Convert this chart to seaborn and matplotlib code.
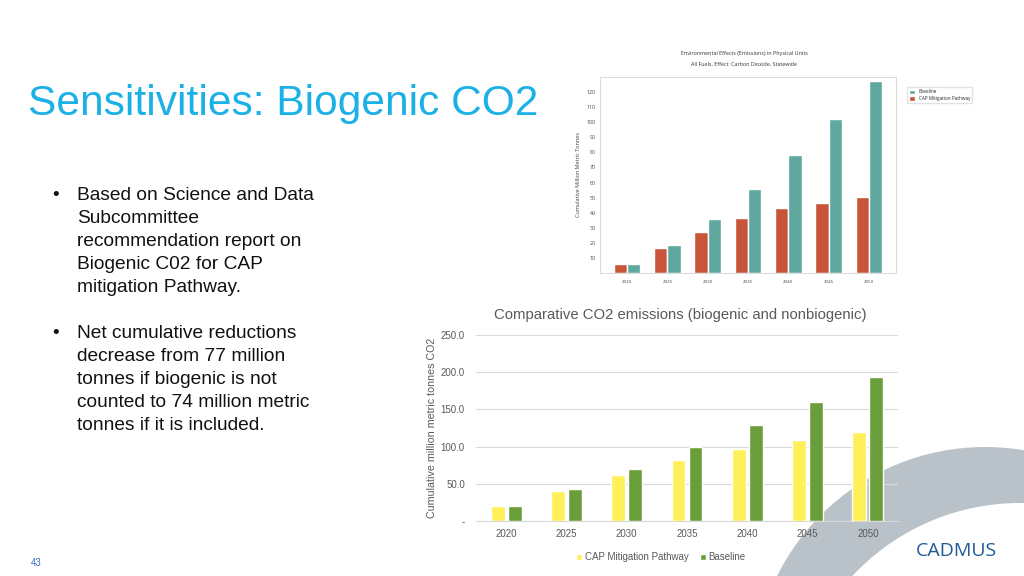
import numpy as np
import pandas as pd
import matplotlib
matplotlib.use("Agg")
import matplotlib.pyplot as plt
from matplotlib.patches import Circle
import seaborn as sns

# data: top inset chart (physical units model output)
years = ["2020", "2025", "2030", "2035", "2040", "2045", "2050"]
top_baseline = [6.3, 18.6, 35.9, 55.7, 78.2, 102.1, 127.3]
top_cap = [6.3, 16.6, 27.2, 36.5, 42.9, 46.7, 50.2]
top_yticks = [10, 20, 30, 40, 50, 60, 70, 80, 90, 100, 110, 120]

# data: bottom chart (biogenic + nonbiogenic)
cap_pathway = [19.7, 40.8, 62.3, 81.5, 97.2, 108.4, 119.6]
baseline = [19.7, 43.5, 70.3, 99.0, 128.6, 159.9, 193.5]
bottom_yticks = [0, 50, 100, 150, 200, 250]
bottom_ytick_labels = ["-", "50.0", "100.0", "150.0", "200.0", "250.0"]

bullets = [
    ["Based on Science and Data", "Subcommittee", "recommendation report on",
     "Biogenic C02 for CAP", "mitigation Pathway."],
    ["Net cumulative reductions", "decrease from 77 million",
     "tonnes if biogenic is not", "counted to 74 million metric",
     "tonnes if it is included."],
]

sns.set_theme(style="white")
plt.rcParams["font.family"] = ["Liberation Sans", "DejaVu Sans"]

W, H = 1024, 576
fig = plt.figure(figsize=(W / 100, H / 100), dpi=100)
fig.patch.set_facecolor("white")


def px_axes(left, top, right, bottom, **kw):
    return fig.add_axes([left / W, 1 - bottom / H, (right - left) / W, (bottom - top) / H], **kw)


# slide background layer (pixel coordinates)
bg = fig.add_axes([0, 0, 1, 1], zorder=0)
bg.set_xlim(0, W)
bg.set_ylim(H, 0)
bg.axis("off")
# crescent decoration, bottom right
bg.add_patch(Circle((985, 679), 232, facecolor="#b9c2c8", edgecolor="none"))
bg.add_patch(Circle((1020, 732), 229, facecolor="white", edgecolor="none"))

bg.text(28, 115, "Sensitivities: Biogenic CO2", color="#1cb1e6", fontsize=30.6,
        va="baseline", ha="left")
y = 200
for block in bullets:
    bg.text(52, y, "\u2022", fontsize=13.8, color="#111111", va="baseline")
    for line in block:
        bg.text(77, y, line, fontsize=13.8, color="#111111", va="baseline")
        y += 23
    y += 23
bg.text(36, 563, "43", fontsize=7, color="#3a6fc0", va="center", ha="center")
bg.text(956, 551, "CADMUS", fontsize=14, color="#1f5a96", va="center", ha="center",
        family=["Open Sans", "DejaVu Sans"])

# top inset chart
tfont = ["Open Sans", "DejaVu Sans"]
bg.text(744, 54, "Environmental Effects (Emissions) in Physical Units", fontsize=3.9,
        color="#333333", ha="center", va="center", family=tfont)
bg.text(744, 64, "All Fuels, Effect: Carbon Dioxide, Statewide", fontsize=3.9,
        color="#333333", ha="center", va="center", family=tfont)

top_df = pd.DataFrame({
    "year": years * 2,
    "value": top_cap + top_baseline,
    "series": ["CAP Mitigation Pathway"] * 7 + ["Baseline"] * 7,
})
ax1 = px_axes(600, 77, 896, 273, zorder=2)
sns.barplot(data=top_df, x="year", y="value", hue="series",
            hue_order=["CAP Mitigation Pathway", "Baseline"],
            palette=["#c8553a", "#5fa8a0"], width=0.66, saturation=1,
            ax=ax1, legend=True)
ax1.set_xlim(-0.67, 6.67)
ax1.set_ylim(0, 130)
ax1.set_yticks(top_yticks)
ax1.tick_params(axis="y", labelsize=3.8, colors="#444444", length=0, pad=3)
ax1.tick_params(axis="x", labelsize=3.2, colors="#444444", length=0, pad=5)
for lab in ax1.get_xticklabels() + ax1.get_yticklabels():
    lab.set_family(tfont)
ax1.set_xlabel("")
ax1.set_ylabel("Cumulative Million Metric Tonnes", fontsize=4.0, color="#444444",
               family=tfont, labelpad=4)
for s in ax1.spines.values():
    s.set_color("#dddddd")
    s.set_linewidth(0.8)
h, l = ax1.get_legend_handles_labels()
ax1.legend(h[::-1], l[::-1], loc="upper left", bbox_to_anchor=(1.03, 0.96),
           frameon=True, edgecolor="#dddddd", fancybox=False,
           handlelength=1.2, handleheight=1.2, borderpad=0.5, labelspacing=0.3,
           prop={"family": tfont, "size": 3.3})

# bottom chart
bot_df = pd.DataFrame({
    "year": years * 2,
    "value": cap_pathway + baseline,
    "series": ["CAP Mitigation Pathway"] * 7 + ["Baseline"] * 7,
})
ax2 = px_axes(476, 335, 898, 521, zorder=2)
ax2.set_facecolor("none")
sns.barplot(data=bot_df, x="year", y="value", hue="series",
            hue_order=["CAP Mitigation Pathway", "Baseline"],
            palette=["#fff05a", "#6a9e3a"], width=0.56, gap=0.18, saturation=1,
            ax=ax2, legend=True, zorder=3)
ax2.set_xlim(-0.5, 6.5)
ax2.set_ylim(0, 250)
ax2.set_yticks(bottom_yticks, bottom_ytick_labels)
ax2.yaxis.grid(True, color="#d9d9d9", linewidth=0.8, zorder=0)
ax2.set_axisbelow(True)
for s in ["left", "right", "top"]:
    ax2.spines[s].set_visible(False)
ax2.spines["bottom"].set_color("#d9d9d9")
ax2.spines["bottom"].set_linewidth(0.8)
ax2.tick_params(axis="y", labelsize=7, colors="#595959", length=0, pad=8)
ax2.tick_params(axis="x", labelsize=7, colors="#595959", length=0, pad=6)
ax2.set_xlabel("")
ax2.set_ylabel("Cumulative million metric tonnes CO2", fontsize=7.7, color="#595959",
               labelpad=3)
bg.text(680, 315, "Comparative CO2 emissions (biogenic and nonbiogenic)", fontsize=10.7,
        color="#595959", ha="center", va="center")
h, l = ax2.get_legend_handles_labels()
ax2.legend(h, l, loc="upper center", bbox_to_anchor=(0.438, -0.12), ncol=2,
           fontsize=7, frameon=False, handlelength=0.6, handleheight=0.6,
           handletextpad=0.3, columnspacing=1.2, labelcolor="#595959")

fig.savefig("out.png", dpi=100)
